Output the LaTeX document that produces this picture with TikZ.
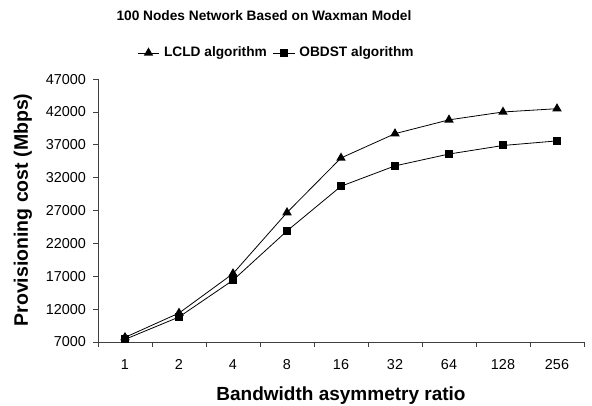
\documentclass[tikz,border=0pt]{standalone}
\usepackage{fontspec}
\setmainfont{Liberation Sans}
\usetikzlibrary{positioning,shapes.geometric}

\begin{document}
\begin{tikzpicture}[
    x=54pt, y=6.572pt,
    headlabel/.style={font=\fontsize{13.7}{16}\selectfont\bfseries, inner sep=0pt},
    ticklabel/.style={font=\fontsize{14.4}{17}\selectfont, inner sep=0pt},
    axislabel/.style={font=\fontsize{19}{22}\selectfont\bfseries, inner sep=0pt},
    trimark/.style={regular polygon, regular polygon sides=3, fill=black, inner sep=0pt, minimum size=11pt},
    sqmark/.style={rectangle, fill=black, inner sep=0pt, minimum size=8pt},
    series/.style={black, line width=0.8pt},
]
\useasboundingbox (-98pt,-64pt) rectangle (494pt,342pt);

% Title and legend
\node[headlabel] (title) at (166pt,326pt) {100 Nodes Network Based on Waxman Model};

\node[trimark] (lgm1) at (50.5pt,289pt) {};
\coordinate (lga1) at (40pt,289pt);
\coordinate (lgb1) at (61pt,289pt);
\draw[series] (lga1) -- (lgb1);
\node[headlabel, right=12pt of lgm1] (lgt1) {LCLD algorithm};

\node[sqmark] (lgm2) at (186pt,289pt) {};
\coordinate (lga2) at (175pt,289pt);
\coordinate (lgb2) at (197pt,289pt);
\draw[series] (lga2) -- (lgb2);
\node[headlabel, right=11pt of lgm2] (lgt2) {OBDST algorithm};

% Axes
\draw[black!75, line width=0.8pt] (0,40) -- (0,0) -- (9,0);

% Y ticks and values
\foreach \t [count=\k from 0] in {7000,12000,17000,22000,27000,32000,37000,42000,47000} {
    \draw[black!75, line width=0.8pt] (0,5*\k) -- ++(-5pt,0);
    \node[ticklabel, anchor=east] (y\k) at ([xshift=-12pt]0,5*\k) {\t};
}

% X ticks and categories
\foreach \i in {0,...,9} {
    \draw[black!75, line width=0.8pt] (\i,0) -- ++(0,-5pt);
}
\foreach \r [count=\i] in {1,2,4,8,16,32,64,128,256} {
    \node[ticklabel, anchor=base] (x\i) at ([yshift=-28pt]\i-0.5,0) {\r};
}

% Axis titles
\node[axislabel] (xlab) at (243pt,-54pt) {Bandwidth asymmetry ratio};
\node[axislabel, font=\fontsize{19.5}{22}\selectfont\bfseries, rotate=90] (ylab) at (-75pt,132pt) {Provisioning cost (Mbps)};

% LCLD algorithm
\foreach \v [count=\i] in {7.7,11.4,17.4,26.7,35.0,38.7,40.8,42.0,42.5} {
    \node[trimark] (l\i) at (\i-0.5,\v-7) {};
}
% OBDST algorithm
\foreach \v [count=\i] in {7.4,10.8,16.4,23.9,30.7,33.8,35.6,36.9,37.6} {
    \node[sqmark] (o\i) at (\i-0.5,\v-7) {};
}
\foreach \i in {1,...,8} {
    \pgfmathtruncatemacro\j{\i+1}
    \draw[series] (l\i.center) -- (l\j.center);
    \draw[series] (o\i.center) -- (o\j.center);
}

\end{tikzpicture}
\end{document}
